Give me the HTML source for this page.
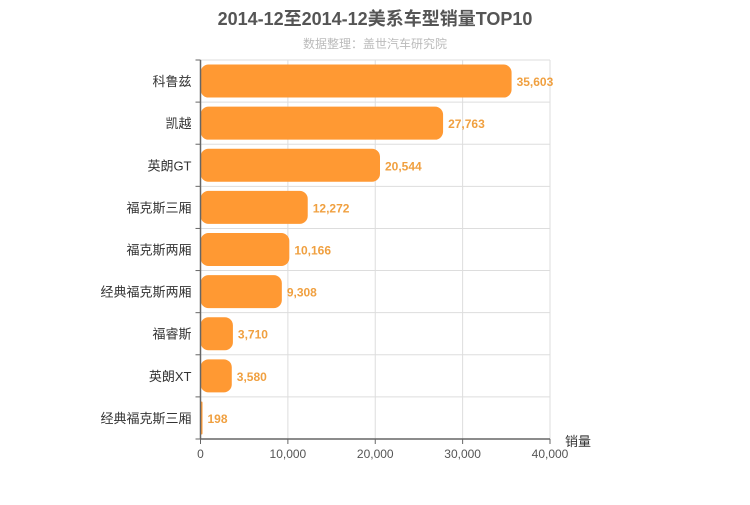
<!DOCTYPE html>
<html><head><meta charset="utf-8"><style>
body{margin:0;background:#fff;width:750px;height:500px;overflow:hidden}
svg text{font-family:"Liberation Sans","Noto Sans CJK SC",sans-serif}
</style></head><body>
<svg width="750" height="500">
<text x="375" y="25" text-anchor="middle" font-size="18" font-weight="bold" fill="#555">2014-12至2014-12美系车型销量TOP10</text>
<text x="375" y="48" text-anchor="middle" font-size="12" fill="#bbb">数据整理：盖世汽车研究院</text>
<g id="grid"></g><g id="bars"></g><g id="axes"></g>
<text x="565" y="446" font-size="13" fill="#333">销量</text>
</svg>
<script>
const categories=["科鲁兹","凯越","英朗GT","福克斯三厢","福克斯两厢","经典福克斯两厢","福睿斯","英朗XT","经典福克斯三厢"];
const values=[35603,27763,20544,12272,10166,9308,3710,3580,198];
const ticks=[0,10000,20000,30000,40000];
const x0=200.5,x1=550,yTop=60,yBottom=439,maxV=40000;
const xs=v=>x0+(x1-x0)*v/maxV;
const rh=(yBottom-yTop)/categories.length;
const ns="http://www.w3.org/2000/svg";
function mk(t,a,p){const e=document.createElementNS(ns,t);for(const k in a)e.setAttribute(k,a[k]);p.appendChild(e);return e;}
const G=document.getElementById('grid'),B=document.getElementById('bars'),A=document.getElementById('axes');
ticks.forEach((t,i)=>{if(i>0){const l=mk('line',{x1:xs(t),x2:xs(t),y1:yTop,y2:yBottom,stroke:'#ddd'},G);

}
const tx=mk('text',{x:xs(t),y:yBottom+19,'text-anchor':'middle','font-size':12,fill:'#555'},A);tx.textContent=t.toLocaleString('en-US');


mk('line',{x1:xs(t),x2:xs(t),y1:yBottom,y2:yBottom+5,stroke:'#666'},A);});
for(let i=0;i<=categories.length;i++){const y=yTop+i*rh;
if(i<categories.length){const l=mk('line',{x1:x0,x2:x1,y1:y,y2:y,stroke:'#ddd'},G);

}
mk('line',{x1:x0-5,x2:x0,y1:y,y2:y,stroke:'#666'},A);}
mk('line',{x1:x0,x2:x0,y1:yTop,y2:yBottom,stroke:'#666','stroke-width':1.5},A);
mk('line',{x1:x0,x2:x1,y1:yBottom,y2:yBottom,stroke:'#666','stroke-width':1.5},A);
categories.forEach((c,i)=>{const cy=yTop+rh*(i+0.5),w=Math.max(xs(values[i])-x0,2);
const r=mk('rect',{x:x0,y:cy-16.5,width:w,height:33,rx:Math.min(8,w/2),fill:'#ff9933'},B);


const lb=mk('text',{x:x0+w+5,y:cy+5,'font-size':12,'font-weight':'bold',fill:'#f0a040'},B);lb.textContent=values[i].toLocaleString('en-US');


const cl=mk('text',{x:x0-9,y:cy+5,'text-anchor':'end','font-size':13,fill:'#333'},A);cl.textContent=c;

});
</script>
</body></html>
